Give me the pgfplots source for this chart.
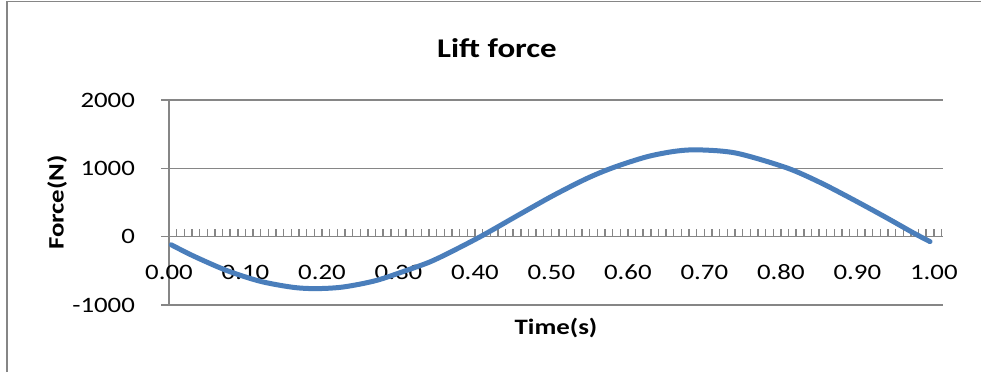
\documentclass[border=0pt]{standalone}
\usepackage{pgfplots}
\pgfplotsset{compat=1.18}
\usepackage{fontspec}
\setmainfont{Carlito}[FakeStretch=1.22]
\definecolor{lineblue}{HTML}{4A7EBB}
\definecolor{axgray}{HTML}{868686}
\begin{document}
\begin{tikzpicture}
\useasboundingbox (0,0) rectangle (490.5pt,186pt);
\draw[axgray, line width=0.75pt] (3.6pt,0) -- (3.6pt,185.2pt) -- (491pt,185.2pt);
\node[font=\bfseries\fontsize{13.5}{15}\selectfont] at (248.5pt,162pt) {Lift force};
\begin{axis}[
  at={(84.5pt,33.5pt)}, anchor=south west,
  scale only axis, width=387pt, height=102.5pt,
  clip mode=individual,
  xmin=0, xmax=1.012, ymin=-1000, ymax=2000,
  axis x line=middle, axis y line=left,
  axis line style={-, draw=axgray, line width=0.8pt},
  every inner x axis line/.append style={-},
  every outer y axis line/.append style={-},
  hide obscured x ticks=false, hide obscured y ticks=false,
  xtick={0,0.1,0.2,0.3,0.4,0.5,0.6,0.7,0.8,0.9,1.0},
  minor xtick={0.01,0.02,...,1.011},
  ytick={-1000,0,1000,2000},
  tick align=inside,
  major tick length=4pt, minor tick length=4pt,
  every tick/.style={axgray, line width=0.7pt},
  ytick style={xshift=-4pt},
  ymajorgrids,
  major grid style={axgray, line width=0.8pt},
  /pgf/number format/assume math mode=true,
  /pgf/number format/1000 sep={},
  ticklabel style={font=\fontsize{11}{13}\selectfont, text=black},
  xticklabel style={/pgf/number format/fixed, /pgf/number format/fixed zerofill, /pgf/number format/precision=2, yshift=-10.5pt},
  yticklabel style={xshift=-13.5pt},
]
\addplot[lineblue, line width=2.5pt, smooth, line cap=round, line join=round] coordinates {
(0.003,-119) (0.032,-283) (0.075,-493) (0.119,-652) (0.162,-741) (0.193,-760)
(0.228,-736) (0.271,-641) (0.315,-476) (0.341,-370) (0.367,-232) (0.409,12)
(0.459,330) (0.502,600) (0.546,850) (0.581,1012) (0.625,1170) (0.663,1252)
(0.694,1270) (0.742,1222) (0.807,1010) (0.851,795) (0.895,540) (0.938,278)
(0.973,57) (0.995,-72)
};
\node[rotate=90, font=\bfseries\fontsize{11}{13}\selectfont] at (axis description cs:-0.1447,0.5) {Force(N)};
\node[font=\bfseries\fontsize{11}{13}\selectfont] at (axis description cs:0.5,-0.112) {Time(s)};
\end{axis}
\end{tikzpicture}
\end{document}
